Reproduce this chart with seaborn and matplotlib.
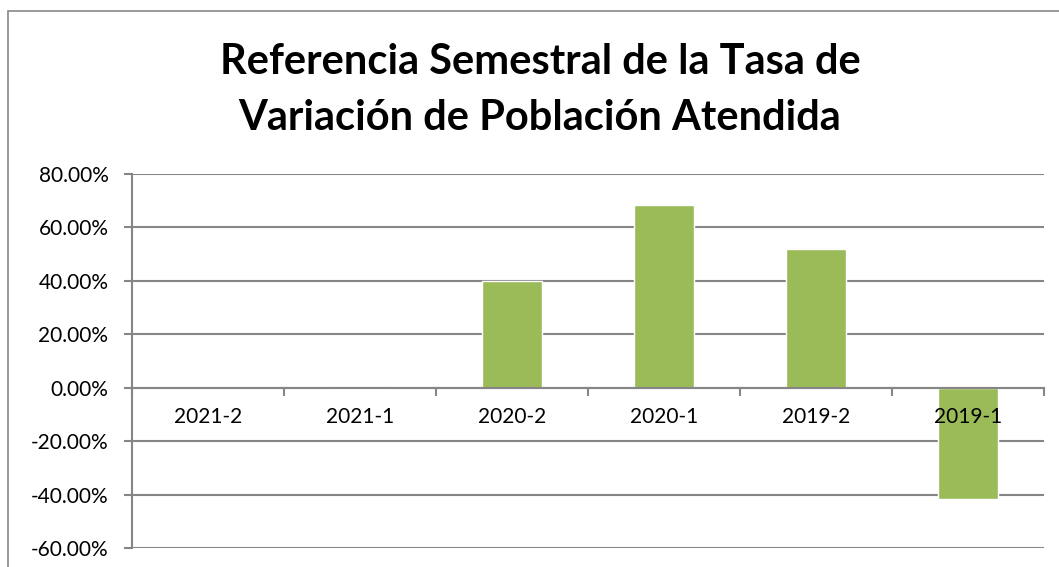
import matplotlib
matplotlib.use("Agg")
import matplotlib.pyplot as plt
import seaborn as sns
from matplotlib.patches import Rectangle
from matplotlib.ticker import FuncFormatter, FixedLocator

categories = ["2021-2", "2021-1", "2020-2", "2020-1", "2019-2", "2019-1"]
values = [0.0, -0.4, 39.8, 68.3, 52.1, -41.8]
title_lines = ["Referencia Semestral de la Tasa de", "Variación de Población Atendida"]

sns.set_theme(style="white")
plt.rcParams["font.family"] = ["Lato", "DejaVu Sans"]

W, H = 1059, 567
fig = plt.figure(figsize=(W / 100, H / 100), dpi=100)
fig.patch.set_facecolor("white")

# chart area border
fig.patches.append(Rectangle((8 / W, -0.05), 1.2, (H - 11) / H + 0.05,
                             transform=fig.transFigure, fill=False,
                             edgecolor="#878787", linewidth=1.2, zorder=0))

ax = fig.add_axes([132 / W, (H - 548) / H, (1044 - 132) / W, (548 - 174) / H])
sns.barplot(x=categories, y=values, color="#9BBB59", saturation=1, width=0.4,
            ax=ax, zorder=2)

ax.set_ylim(-60, 80)
ax.set_xlim(-0.5, len(categories) - 0.5)
ax.yaxis.set_major_locator(FixedLocator(list(range(-60, 81, 20))))
ax.yaxis.set_major_formatter(FuncFormatter(lambda v, p: f"{v:.2f}%"))
ax.yaxis.grid(True, color="#868686", linewidth=1.5)
ax.yaxis.set_zorder(0.5)
ax.xaxis.set_zorder(3)

for s in ["top", "right"]:
    ax.spines[s].set_visible(False)
ax.spines["left"].set_color("#868686")
ax.spines["left"].set_linewidth(1.5)
ax.spines["bottom"].set_position(("data", 0))
ax.spines["bottom"].set_color("#868686")
ax.spines["bottom"].set_linewidth(1.5)

ax.tick_params(axis="y", which="major", left=True, length=6, width=1.5,
               color="#868686", labelsize=15, labelcolor="black", pad=11)
ax.tick_params(axis="x", which="major", bottom=False, length=0,
               labelsize=15, labelcolor="black", pad=14)
ax.set_xticks(range(len(categories)))
ax.set_xticklabels(categories)
ax.set_xticks([i - 0.5 for i in range(len(categories) + 1)], minor=True)
ax.tick_params(axis="x", which="minor", bottom=True, length=6, width=1.5,
               color="#868686", direction="out")
ax.set_xlabel("")
ax.set_ylabel("")

fig.text(540 / W, (H - 90) / H, "\n".join(title_lines), ha="center", va="center",
         fontsize=30, fontweight="bold", color="black", linespacing=1.6)

fig.savefig("out.png", dpi=100, facecolor="white")
